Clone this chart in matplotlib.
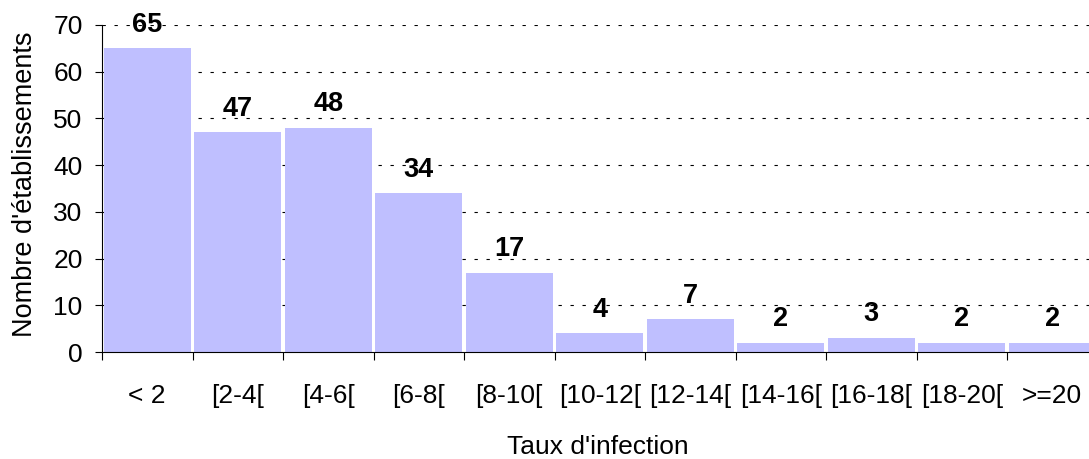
import matplotlib
matplotlib.use("Agg")
import matplotlib.pyplot as plt
import numpy as np

categories = ["< 2", "[2-4[", "[4-6[", "[6-8[", "[8-10[", "[10-12[", "[12-14[",
              "[14-16[", "[16-18[", "[18-20[", ">=20"]
values = [65, 47, 48, 34, 17, 4, 7, 2, 3, 2, 2]
y_ticks = [0, 10, 20, 30, 40, 50, 60, 70]

plt.rcParams['font.family'] = ['Liberation Sans', 'DejaVu Sans']

fig = plt.figure(figsize=(10.89, 4.59), dpi=100)
ax = fig.add_axes([102/1089, 1 - 352/459, 995.5/1089, 327/459])

x = np.arange(len(categories))
ax.bar(x, values, width=0.965, color='#BFBFFF', zorder=2)

ax.set_xlim(-0.5, len(categories) - 0.5)
ax.set_ylim(0, 70)
ax.set_yticks(y_ticks)
ax.set_yticklabels([str(v) for v in y_ticks], fontsize=19)
ax.tick_params(axis='y', direction='out', length=5, width=0.8, pad=9)

ax.set_xticks(x)
ax.set_xticklabels(categories, fontsize=19)
ax.tick_params(axis='x', which='major', length=0, pad=23)
ax.set_xticks(np.arange(len(categories)) - 0.5, minor=True)
ax.tick_params(axis='x', which='minor', direction='out', length=6, width=0.8)

for v in y_ticks[1:]:
    ax.axhline(v, color='black', linewidth=0.8, dashes=(3, 7.8), zorder=1)

for s in ['top', 'right']:
    ax.spines[s].set_visible(False)
for s in ['left', 'bottom']:
    ax.spines[s].set_linewidth(0.8)
    ax.spines[s].set_zorder(3)

for xi, v in zip(x, values):
    ax.annotate(str(v), (xi, v), xytext=(0, 12), textcoords='offset points',
                ha='center', va='baseline', fontsize=19.5, fontweight='bold', zorder=4)

fig.text(25/1089, 1 - 184/459, "Nombre d'établissements", rotation=90,
         ha='center', va='center', fontsize=19.5)
fig.text(598/1089, 1 - 447/459, "Taux d'infection", ha='center', va='center', fontsize=19)

fig.savefig("out.png", dpi=100)
